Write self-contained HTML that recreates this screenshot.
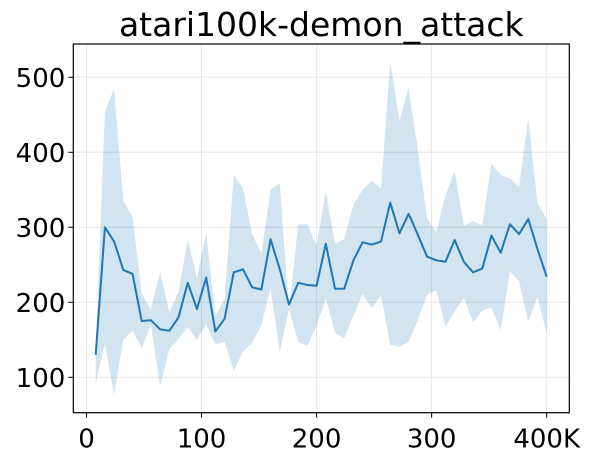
<!DOCTYPE html>
<html><head><meta charset="utf-8"><style>
body{margin:0;background:#fff;}
svg{display:block;font-family:"DejaVu Sans","Liberation Sans",sans-serif;}
</style></head><body>
<svg id="chart" width="592" height="461"></svg>
<script>
const steps = [8,16,24,32,40,48,56,64,72,80,88,96,104,112,120,128,136,144,152,160,168,176,184,192,200,208,216,224,232,240,248,256,264,272,280,288,296,304,312,320,328,336,344,352,360,368,376,384,392,400];
const meanVals = [130,300,281,243,238,175,176,164,162,180,226,191,233,161,178,240,244,220,217,284,244,197,226,223,222,278,218,218,256,280,277,281,333,292,318,290,261,256,254,283,254,240,245,289,266,304,291,311,271,234];
const upperVals = [140,454,485,335,314,212,190,240,186,214,284,232,293,181,205,370,352,291,265,350,359,189,304,304,276,348,278,284,330,350,362,352,521,442,486,403,312,293,342,375,302,308,303,384,370,365,354,445,332,311];
const lowerVals = [92,145,76,150,162,139,170,88,137,151,167,150,171,144,147,109,134,146,169,219,133,191,147,142,169,205,159,152,182,211,192,209,143,141,147,176,210,216,167,188,206,173,189,193,163,241,228,174,208,158];
const xTicks = [0,100,200,300,400];
const xTickLabels = ["0","100","200","300","400K"];
const yTicks = [100,200,300,400,500];

const NS = "http://www.w3.org/2000/svg";
const svg = document.getElementById('chart');
const L=73.3,R=569.3,T=44,B=412.7;
const xs = v => 86.5 + v*1.1505;
const ys = v => 377.3 - (v-100)*0.75;
function mk(tag, attrs, parent){const e=document.createElementNS(NS,tag);for(const k in attrs)e.setAttribute(k,attrs[k]);(parent||svg).appendChild(e);return e;}

const grid = mk('g',{});


xTicks.forEach(t=>{const l=mk('line',{x1:xs(t),x2:xs(t),y1:T,y2:B,stroke:'#e6e6e6','stroke-width':1},grid);

});
yTicks.forEach(t=>{const l=mk('line',{x1:L,x2:R,y1:ys(t),y2:ys(t),stroke:'#e6e6e6','stroke-width':1},grid);

});

let d='';
steps.forEach((s,i)=>{d+=(i?'L':'M')+xs(s)+','+ys(upperVals[i]);});
for(let i=steps.length-1;i>=0;i--){d+='L'+xs(steps[i])+','+ys(lowerVals[i]);}
const band = mk('path',{d:d+'Z',fill:'#1f77b4','fill-opacity':0.2,stroke:'none'});



const line = mk('polyline',{points:steps.map((s,i)=>xs(s)+','+ys(meanVals[i])).join(' '),fill:'none',stroke:'#1f77b4','stroke-width':2,'stroke-linejoin':'round'});



const frame = mk('rect',{x:L,y:T,width:R-L,height:B-T,fill:'none',stroke:'#000','stroke-width':1.2});



xTicks.forEach((t,i)=>{
  const tk=mk('line',{x1:xs(t),x2:xs(t),y1:B,y2:B+5,stroke:'#000','stroke-width':1});
  
  
  const tx=mk('text',{x:xs(t),y:B+35,'text-anchor':'middle','font-size':26,fill:'#000'});
  tx.textContent=xTickLabels[i];
  
  
});
yTicks.forEach(t=>{
  const tk=mk('line',{x1:L-5,x2:L,y1:ys(t),y2:ys(t),stroke:'#000','stroke-width':1});
  
  
  const tx=mk('text',{x:L-8,y:ys(t)+9.5,'text-anchor':'end','font-size':26,fill:'#000'});
  tx.textContent=String(t);
  
  
});
const title=mk('text',{x:(L+R)/2,y:36,'text-anchor':'middle','font-size':33,fill:'#000'});
title.textContent='atari100k-demon_attack';


</script>
</body></html>
